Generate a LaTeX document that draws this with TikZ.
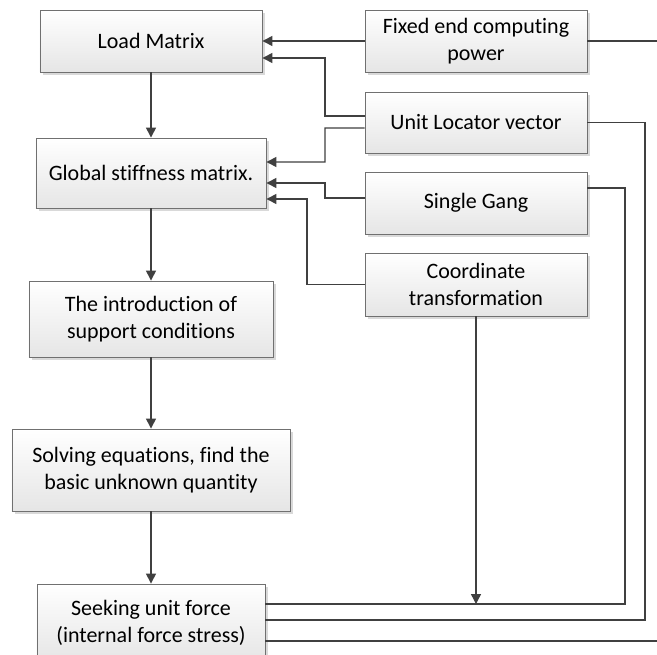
\documentclass[tikz,border=0pt]{standalone}
\usepackage{fontspec}
\setmainfont{Carlito}[Ligatures={NoCommon,NoContextual,NoRare}]
\usetikzlibrary{arrows.meta,shadows,calc}
\definecolor{lncol}{HTML}{404040}
\definecolor{bdcol}{HTML}{707070}
\begin{document}
\begin{tikzpicture}[x=1bp,y=-1bp,
  box/.style={draw=bdcol, line width=0.9bp, top color=white, bottom color=black!10,
    align=center, inner sep=0pt, font=\fontsize{22bp}{27bp}\selectfont,
    drop shadow={shadow xshift=3bp, shadow yshift=-3bp, fill=black!15, opacity=1}},
  ln/.style={draw=lncol, line width=1.4bp},
  arr/.style={ln, -{Triangle[length=10bp,width=10bp]}}]
\clip (0,0) rectangle (657,655);
\useasboundingbox (0,0) rectangle (657,655);
\fill[white] (0,0) rectangle (657,655);

% left column
\node[box, minimum width=222bp, minimum height=62bp] (load) at (151,41) {Load Matrix};
\node[box, minimum width=230bp, minimum height=70bp] (glob) at (151,173) {Global stiffness matrix.};
\node[box, minimum width=244bp, minimum height=76bp] (intro) at (151,319) {The introduction of\\support conditions};
\node[box, minimum width=278bp, minimum height=82bp] (solve) at (151,470) {Solving equations, find the\\basic unknown quantity};
\node[box, minimum width=228bp, minimum height=78bp] (seek) at (151,623) {Seeking unit force\\(internal force stress)};

% right column
\node[box, minimum width=222bp, minimum height=62bp] (fixed) at (476,41) {Fixed end computing\\power};
\node[box, minimum width=222bp, minimum height=61bp] (unit) at (476,122.5) {Unit Locator vector};
\node[box, minimum width=222bp, minimum height=62bp] (gang) at (476,203) {Single Gang};
\node[box, minimum width=222bp, minimum height=63bp] (coord) at (476,284.5) {Coordinate\\transformation};

\coordinate (fe) at (657,41);
\coordinate (se) at (657,641);

% main flow
\draw[arr] (load.south) -- (glob.north);
\draw[arr] (glob.south) -- (intro.north);
\draw[arr] (intro.south) -- (solve.north);
\draw[arr] (solve.south) -- (seek.north);

% inputs
\draw[arr] (fixed.west) -- (load.east);
\draw[ln] (fixed.east) -- (fe);
\draw[arr] ($(unit.west)+(0,-6.5)$) -- (325,116) -- (325,58) -- ($(load.east)+(0,17)$);
\draw[arr] ($(unit.west)+(0,5.5)$) -- (325,128) -- (325,162) -- ($(glob.east)+(0,-11)$);
\draw[arr] ($(gang.west)+(0,-5)$) -- (325,198) -- (325,183) -- ($(glob.east)+(0,10)$);
\draw[arr] (coord.west) -- (307,284.5) -- (307,199) -- ($(glob.east)+(0,26)$);

% outputs to seek
\draw[ln] (unit.east) -- (645,122.5) -- (645,620) -- ($(seek.east)+(0,-3)$);
\draw[ln] ($(gang.east)+(0,-15)$) -- (625,188) -- (625,604) -- ($(seek.east)+(0,-19)$);
\draw[arr] (coord.south) -- (coord.south |- 0,604);
\draw[ln] ($(seek.east)+(0,18)$) -- (se);
\end{tikzpicture}
\end{document}
